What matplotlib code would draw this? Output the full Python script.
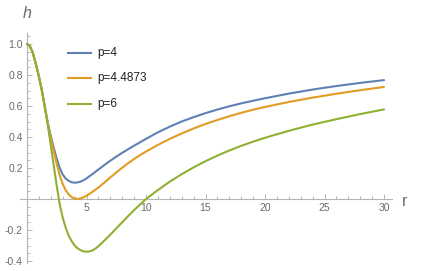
import matplotlib
matplotlib.use("Agg")
import matplotlib.pyplot as plt
from matplotlib.lines import Line2D
from matplotlib.ticker import FixedLocator

plt.rcParams['font.family'] = ['Liberation Sans', 'DejaVu Sans']

r = [0, 0.25, 0.5, 0.75, 1.0, 1.25, 1.5, 1.75, 2.0, 2.25, 2.5, 2.75, 3.0, 3.25,
     3.5, 3.75, 4.0, 4.25, 4.5, 4.75, 5.0, 5.25, 5.5, 5.75, 6.0, 6.5, 7.0, 7.5,
     8.0, 8.5, 9.0, 9.5, 10.0, 11, 12, 13, 14, 15, 16, 17, 18, 19, 20, 22, 24,
     26, 28, 30]

h_p4 = [1.0, 0.985, 0.94, 0.87, 0.79, 0.70, 0.595, 0.49, 0.405, 0.33, 0.26,
        0.20, 0.158, 0.132, 0.117, 0.108, 0.105, 0.107, 0.112, 0.121, 0.133,
        0.147, 0.161, 0.175, 0.19, 0.219, 0.247, 0.273, 0.298, 0.321, 0.344,
        0.366, 0.388, 0.43, 0.467, 0.5, 0.528, 0.554, 0.577, 0.598, 0.617,
        0.634, 0.65, 0.68, 0.706, 0.729, 0.749, 0.767]

h_p44873 = [1.0, 0.985, 0.94, 0.87, 0.79, 0.70, 0.593, 0.482, 0.395, 0.31,
            0.225, 0.152, 0.097, 0.057, 0.03, 0.012, 0.003, 0.0, 0.004, 0.011,
            0.021, 0.033, 0.046, 0.06, 0.074, 0.106, 0.139, 0.171, 0.202,
            0.231, 0.258, 0.283, 0.306, 0.349, 0.388, 0.423, 0.455, 0.484,
            0.51, 0.534, 0.556, 0.576, 0.594, 0.626, 0.654, 0.679, 0.702, 0.723]

h_p6 = [1.0, 0.985, 0.94, 0.87, 0.79, 0.70, 0.59, 0.475, 0.345, 0.215, 0.085,
        -0.035, -0.12, -0.185, -0.235, -0.272, -0.30, -0.318, -0.33, -0.338,
        -0.34, -0.338, -0.332, -0.32, -0.305, -0.268, -0.23, -0.19, -0.15,
        -0.11, -0.072, -0.035, 0.0, 0.058, 0.112, 0.16, 0.204, 0.244, 0.28,
        0.313, 0.343, 0.37, 0.395, 0.44, 0.48, 0.515, 0.548, 0.578]

labels = ["p=4", "p=4.4873", "p=6"]
colors = ["#5E81B5", "#E19C24", "#8FB032"]
series = [h_p4, h_p44873, h_p6]

W, H = 421, 271
fig = plt.figure(figsize=(W / 100, H / 100), dpi=100)
ax = fig.add_axes([0, 0, 1, 1])

# pixel mapping: x_px = 27 + 11.9 r ; y_px = 199 - 155 h
sx, x0 = 11.9, 27.0
sy, y0 = 155.0, 199.0
ax.set_xlim(-x0 / sx, (W - x0) / sx)
ax.set_ylim((y0 - H) / sy, y0 / sy)

for hs, c in zip(series, colors):
    ax.plot(r, hs, color=c, lw=1.5, solid_joinstyle='round',
            solid_capstyle='round', zorder=3)

axis_col = "#b5b5b5"
lab_col = "#6a6a6a"
for s in ['top', 'right']:
    ax.spines[s].set_visible(False)
ax.spines['left'].set_position(('data', 0))
ax.spines['bottom'].set_position(('data', 0))
ax.spines['left'].set_bounds(-0.41, 1.07)
ax.spines['bottom'].set_bounds(-0.6, 30.7)
for s in ['left', 'bottom']:
    ax.spines[s].set_color(axis_col)
    ax.spines[s].set_linewidth(0.8)

ax.xaxis.set_major_locator(FixedLocator([5, 10, 15, 20, 25, 30]))
ax.xaxis.set_minor_locator(FixedLocator([i for i in range(1, 31) if i % 5]))
ax.yaxis.set_major_locator(FixedLocator([-0.4, -0.2, 0.2, 0.4, 0.6, 0.8, 1.0]))
ax.yaxis.set_minor_locator(FixedLocator([round(-0.4 + 0.05 * i, 2) for i in range(30) if i % 4]))
ax.set_xticklabels(["5", "10", "15", "20", "25", "30"])
ax.set_yticklabels(["-0.4", "-0.2", "0.2", "0.4", "0.6", "0.8", "1.0"])
ax.tick_params(which='both', direction='in', colors=axis_col, labelcolor=lab_col,
               labelsize=7.5, width=0.7)
ax.tick_params(which='major', length=3.5, pad=3)
ax.tick_params(which='minor', length=2)

fig.text(27 / W, 1 - 13 / H, "h", fontsize=11.5, style='italic', color=lab_col,
         ha='center', va='center')
fig.text(405 / W, 1 - 201 / H, "r", fontsize=11.5, color=lab_col,
         ha='center', va='center')

for i, (lab, c) in enumerate(zip(labels, colors)):
    yy = 1 - (52.7 + 25.7 * i) / H
    fig.add_artist(Line2D([67.5 / W, 90.5 / W], [yy, yy], color=c, lw=1.5,
                          transform=fig.transFigure))
    fig.text(97 / W, yy, lab, fontsize=8.5, color="#222222", va='center', ha='left')

fig.savefig("out.png", dpi=100)
